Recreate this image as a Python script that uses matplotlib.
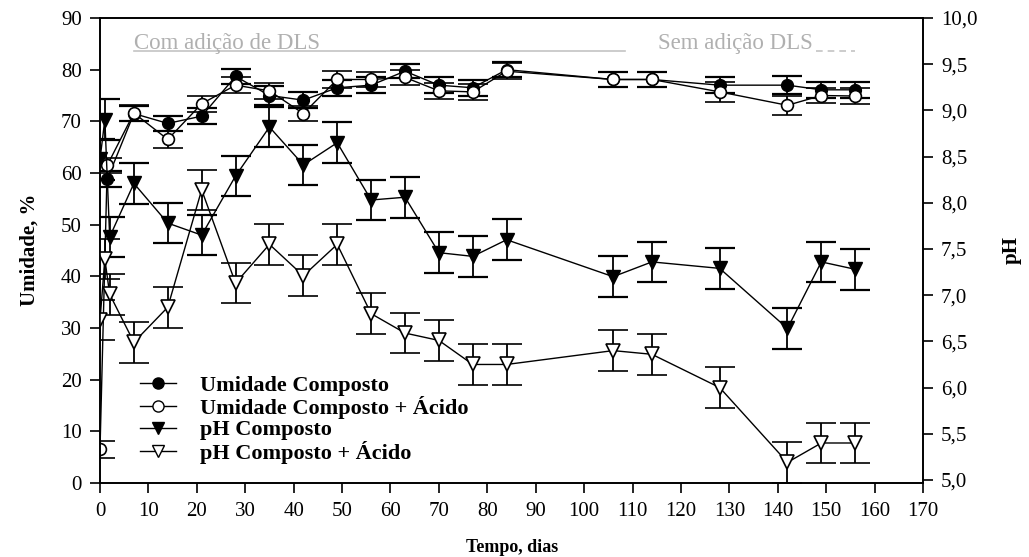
import matplotlib
matplotlib.use("Agg")
import matplotlib.pyplot as plt
from matplotlib.lines import Line2D
from matplotlib.ticker import FuncFormatter, MultipleLocator

plt.rcParams['font.family'] = ['Liberation Serif', 'DejaVu Serif']

# ===== data =====
dias_umid = [1.5, 7, 14, 21, 28, 35, 42, 49, 56, 63, 70, 77, 84, 106, 114, 128, 142, 149, 156]
umid_composto = [58.8, 71.5, 69.6, 71.0, 78.7, 75.0, 74.1, 76.5, 77.0, 79.7, 77.0, 76.5, 80.0,
                 78.1, 78.1, 77.0, 77.0, 76.1, 76.1]
umid_composto_err = [1.5, 1.5, 1.5, 1.5, 1.5, 1.8, 1.5, 1.5, 1.5, 1.4, 1.5, 1.5, 1.5,
                     1.5, 1.5, 1.5, 1.8, 1.5, 1.5]

dias_umid_acido = [0, 1.5, 7, 14, 21, 28, 35, 42, 49, 56, 63, 70, 77, 84, 106, 114, 128, 142, 149, 156]
umid_acido = [6.5, 61.5, 71.6, 66.5, 73.4, 77.0, 75.9, 71.5, 78.1, 78.1, 78.5, 75.9, 75.7, 79.7,
              78.1, 78.1, 75.7, 73.1, 75.0, 74.9]
umid_acido_err = [1.7, 1.5, 1.5, 1.7, 1.5, 1.5, 1.5, 1.5, 1.6, 1.5, 1.5, 1.5, 1.5, 1.5,
                  1.5, 1.5, 1.9, 1.9, 1.5, 1.5]

dias_ph = [0, 1, 2, 7, 14, 21, 28, 35, 42, 49, 56, 63, 70, 77, 84, 106, 114, 128, 142, 149, 156]
ph_composto = [8.47, 8.90, 7.63, 8.21, 7.78, 7.65, 8.29, 8.82, 8.41, 8.65, 8.03, 8.06, 7.46, 7.42,
               7.60, 7.20, 7.36, 7.29, 6.64, 7.36, 7.28]
ph_composto_err = [0.22] * len(dias_ph)
ph_acido = [6.73, 7.39, 7.01, 6.49, 6.87, 8.14, 7.13, 7.55, 7.21, 7.55, 6.80, 6.59, 6.51, 6.25,
            6.25, 6.40, 6.36, 6.00, 5.19, 5.40, 5.40]
ph_acido_err = [0.22] * len(dias_ph)

x_ticks = list(range(0, 171, 10))
rotulos = ["Umidade Composto", "Umidade Composto + Ácido", "pH Composto", "pH Composto + Ácido"]

# ===== figure =====
W, H = 1029, 557
fig = plt.figure(figsize=(W / 100, H / 100), dpi=100)
ax = fig.add_axes([100 / W, (H - 483) / H, 823 / W, 465 / H])
ax2 = ax.twinx()

err_kw = dict(capsize=11, elinewidth=1.3, capthick=1.6, ecolor='black', color='black', lw=1.0)

ax.errorbar(dias_umid, umid_composto, yerr=umid_composto_err, marker='o', ms=8.5,
            mfc='black', mec='black', **err_kw)
ax.errorbar(dias_umid_acido, umid_acido, yerr=umid_acido_err, marker='o', ms=8.5,
            mfc='white', mec='black', mew=1.2, **err_kw)
ax2.errorbar(dias_ph, ph_composto, yerr=ph_composto_err, marker='v', ms=9.5,
             mfc='black', mec='black', **err_kw)
ax2.errorbar(dias_ph, ph_acido, yerr=ph_acido_err, marker='v', ms=9.5,
             mfc='white', mec='black', mew=1.2, **err_kw)

ax.set_xlim(0, 170)
ax.set_ylim(0, 90)
ax2.set_ylim(4.967, 10)
ax.set_xticks(x_ticks)
ax.yaxis.set_major_locator(MultipleLocator(10))
ax2.yaxis.set_major_locator(MultipleLocator(0.5))
ax2.yaxis.set_major_formatter(FuncFormatter(lambda v, p: f"{v:.1f}".replace(".", ",")))

for a in (ax, ax2):
    a.tick_params(direction='out', length=7, width=1.2, labelsize=15, pad=6)
    for s in a.spines.values():
        s.set_linewidth(1.2)
ax.tick_params(axis='x', pad=7)

# axis titles placed like the reference
fig.text(512 / W, 1 - 548 / H, "Tempo, dias", fontsize=13, fontweight='bold',
         ha='center', va='center')
fig.text(30 / W, 1 - 250 / H, "Umidade, %", fontsize=15, fontweight='bold',
         ha='center', va='center', rotation=90)
fig.text(1012 / W, 1 - 250 / H, "pH", fontsize=15, fontweight='bold',
         ha='center', va='center', rotation=90)

# phase annotations
cinza = '#b0b0b0'
ax.text(7, 84.0, "Com adição de DLS", fontsize=16.5, color=cinza, va='baseline', ha='left')
ax.plot([7, 108.5], [83.6, 83.6], color='#c4c4c4', lw=1.2)
ax.text(115.3, 84.0, "Sem adição DLS", fontsize=16.5, color=cinza, va='baseline', ha='left')
ax.plot([148, 156], [83.6, 83.6], color='#c4c4c4', lw=1.2, ls=(0, (4, 3)))

# legend
handles = [
    Line2D([], [], color='black', lw=1, marker='o', ms=8, mfc='black', mec='black'),
    Line2D([], [], color='black', lw=1, marker='o', ms=8, mfc='white', mec='black'),
    Line2D([], [], color='black', lw=1, marker='v', ms=9, mfc='black', mec='black'),
    Line2D([], [], color='black', lw=1, marker='v', ms=9, mfc='white', mec='black'),
]
leg = ax2.legend(handles, rotulos, loc='upper left', bbox_to_anchor=(140 / W, 1 - 375 / H),
                 bbox_transform=fig.transFigure, frameon=False, borderpad=0, borderaxespad=0,
                 handlelength=1.6, handletextpad=1.1, labelspacing=0.03,
                 prop={'family': 'Liberation Serif', 'weight': 'bold', 'size': 16})

fig.savefig("out.png", dpi=100)
